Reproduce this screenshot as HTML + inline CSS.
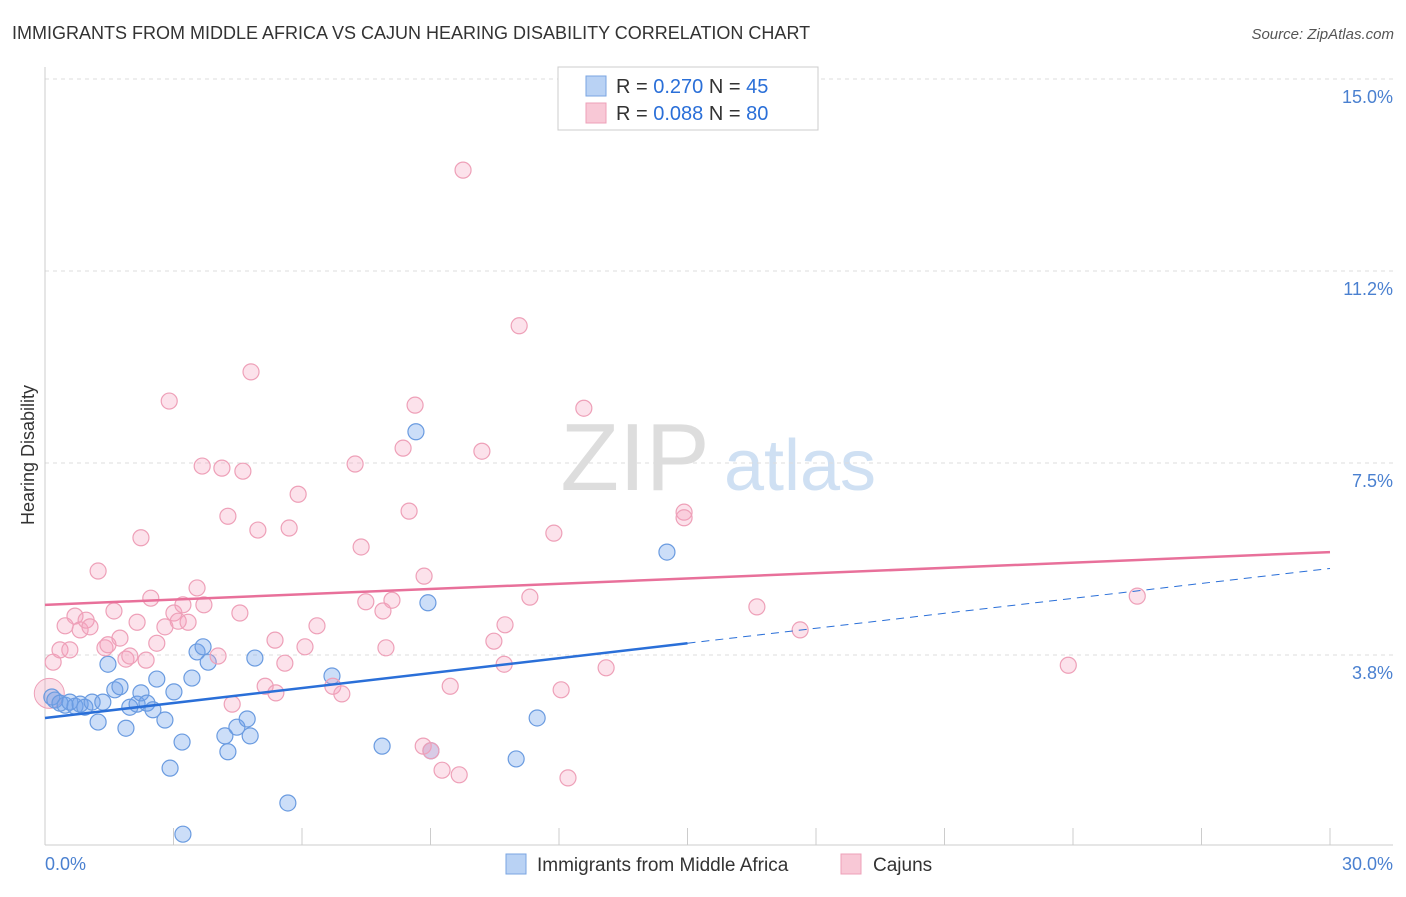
<!DOCTYPE html>
<html><head><meta charset="utf-8"><style>
body{margin:0;background:#fff;font-family:"Liberation Sans",sans-serif}
svg text{font-family:"Liberation Sans",sans-serif}
</style></head><body>
<svg id="c" width="1406" height="892">
<text x="12" y="39" font-size="18" fill="#333">IMMIGRANTS FROM MIDDLE AFRICA VS CAJUN HEARING DISABILITY CORRELATION CHART</text>
<text x="1394" y="39" font-size="15" fill="#555" text-anchor="end" font-style="italic">Source: ZipAtlas.com</text>
<text x="34" y="455" font-size="18" fill="#333" text-anchor="middle" transform="rotate(-90 34 455)">Hearing Disability</text>
<g><text x="635" y="490" font-size="96" fill="#ddd" text-anchor="middle" font-family="Liberation Serif">ZIP</text><text x="800" y="490" font-size="72" fill="#cfe0f3" text-anchor="middle">atlas</text></g>
<g id="grid"></g><g id="marks"></g>
<g>
<rect x="558" y="67" width="260" height="63" fill="#fff" stroke="#ccc"/>
<rect x="586" y="76" width="20" height="20" fill="#b9d2f4" stroke="#7aa4e2"/>
<rect x="586" y="103" width="20" height="20" fill="#f8c8d6" stroke="#eea0b8"/>
<text x="616" y="93" font-size="20" fill="#333">R = <tspan fill="#2a6fd8">0.270</tspan>   N = <tspan fill="#2a6fd8">45</tspan></text>
<text x="616" y="120" font-size="20" fill="#333">R = <tspan fill="#2a6fd8">0.088</tspan>   N = <tspan fill="#2a6fd8">80</tspan></text>
</g>
<g>
<rect x="506" y="854" width="20" height="20" fill="#b9d2f4" stroke="#7aa4e2"/>
<text x="537" y="871" font-size="19" fill="#333">Immigrants from Middle Africa</text>
<rect x="841" y="854" width="20" height="20" fill="#f8c8d6" stroke="#eea0b8"/>
<text x="873" y="871" font-size="19" fill="#333">Cajuns</text>
</g>
</svg>
<script>
const yTicks=[15,11.25,7.5,3.75];
const yTickLabels=["15.0%","11.2%","7.5%","3.8%"];
const xTickLabels=["0.0%","30.0%"];
const blueX=[0.16,0.23,0.35,0.47,0.58,0.70,0.82,0.93,1.10,1.24,1.35,1.47,1.63,1.75,1.89,1.98,2.15,2.24,2.38,2.52,2.61,2.80,2.92,3.01,3.20,3.22,3.43,3.55,3.69,3.81,4.20,4.27,4.48,4.72,4.79,4.90,5.67,6.70,7.87,8.66,8.94,9.01,11.00,11.49,14.52];
const blueY=[2.93,2.87,2.81,2.77,2.83,2.75,2.79,2.73,2.83,2.44,2.83,3.57,3.07,3.13,2.32,2.73,2.79,3.01,2.81,2.68,3.28,2.48,1.54,3.03,2.05,0.25,3.30,3.81,3.91,3.61,2.17,1.86,2.34,2.50,2.17,3.69,0.86,3.34,1.97,8.11,4.77,1.88,1.72,2.52,5.76];
const pinkX=[0.19,0.35,0.47,0.58,0.70,0.82,0.96,1.05,1.24,1.40,1.47,1.61,1.75,1.89,1.98,2.15,2.24,2.36,2.47,2.61,2.80,2.90,3.01,3.11,3.22,3.34,3.55,3.71,3.67,4.04,4.13,4.27,4.37,4.55,4.62,4.81,4.97,5.14,5.37,5.39,5.60,5.70,5.91,6.07,6.35,6.72,6.93,7.24,7.38,7.49,7.89,7.96,8.10,8.36,8.50,8.64,8.85,8.83,9.01,9.27,9.46,9.67,9.76,10.20,10.48,10.72,10.74,11.07,11.32,11.88,12.05,12.21,12.58,13.10,14.92,14.92,16.62,17.63,23.89,25.50];
const pinkY=[3.61,3.85,4.32,3.85,4.51,4.24,4.43,4.30,5.39,3.89,3.95,4.61,4.08,3.67,3.73,4.39,6.04,3.65,4.86,3.98,4.30,8.71,4.57,4.41,4.73,4.39,5.06,4.73,7.44,3.73,7.40,6.46,2.79,4.57,7.34,9.28,6.19,3.14,4.04,3.01,3.59,6.23,6.89,3.91,4.32,3.14,2.99,7.48,5.86,4.79,4.61,3.89,4.82,7.79,6.56,8.63,5.29,1.97,1.88,1.50,3.14,1.41,13.22,7.73,4.02,3.57,4.34,10.18,4.88,6.13,3.07,1.35,8.57,3.50,6.54,6.43,4.69,4.24,3.55,4.90];
const blueTrend=[2.52,5.44];
const pinkTrend=[4.73,5.76];
const NS="http://www.w3.org/2000/svg";
const xs=v=>45+v/30*1285, ys=v=>847-v*51.2;
const grid=document.getElementById('grid'), marks=document.getElementById('marks');
function mk(p,tag,a){const e=document.createElementNS(NS,tag);for(const k in a)e.setAttribute(k,a[k]);p.appendChild(e);return e;}
yTicks.forEach((t,i)=>{
 const l=mk(grid,'line',{x1:45,x2:1393,y1:ys(t),y2:ys(t),stroke:'#ddd','stroke-dasharray':'4,4'});
 
 
 const tx=mk(grid,'text',{x:1393,y:ys(t)+24,'font-size':18,fill:'#4a80d0','text-anchor':'end'});tx.textContent=yTickLabels[i];
 
 
});
const ax=mk(grid,'line',{x1:45,x2:45,y1:67,y2:845,stroke:'#ccc'});


const bx=mk(grid,'line',{x1:45,x2:1393,y1:845,y2:845,stroke:'#ccc'});


for(let i=0;i<=10;i++){const t=mk(grid,'line',{x1:xs(i*3),x2:xs(i*3),y1:828,y2:845,stroke:'#ccc'});
 
 }
[[0,'start',45],[30,'end',1393]].forEach((d,i)=>{const t=mk(grid,'text',{x:d[2],y:870,'font-size':18,fill:'#4a80d0','text-anchor':d[1]});t.textContent=xTickLabels[i];
 
 });
const bg1=mk(marks,'circle',{cx:xs(0.1),cy:ys(3.0),r:15,fill:'rgba(240,150,180,0.3)',stroke:'#eea0b8'});


blueX.forEach((x,i)=>{const c=mk(marks,'circle',{cx:xs(x),cy:ys(blueY[i]),r:8,fill:'rgba(110,160,235,0.35)',stroke:'#6a9be0','stroke-width':1.2});
 
 });
pinkX.forEach((x,i)=>{const c=mk(marks,'circle',{cx:xs(x),cy:ys(pinkY[i]),r:8,fill:'rgba(245,160,190,0.3)',stroke:'#eea0b8','stroke-width':1.2});
 
 });
const bm=blueTrend[0]+(blueTrend[1]-blueTrend[0])/2;
const l1=mk(marks,'line',{x1:xs(0),y1:ys(blueTrend[0]),x2:xs(15),y2:ys(bm),stroke:'#2a6fd8','stroke-width':2.5});


const l2=mk(marks,'line',{x1:xs(15),y1:ys(bm),x2:xs(30),y2:ys(blueTrend[1]),stroke:'#2a6fd8','stroke-width':1,'stroke-dasharray':'8,6'});


const l3=mk(marks,'line',{x1:xs(0),y1:ys(pinkTrend[0]),x2:xs(30),y2:ys(pinkTrend[1]),stroke:'#e8709a','stroke-width':2.5});


</script>
</body></html>
